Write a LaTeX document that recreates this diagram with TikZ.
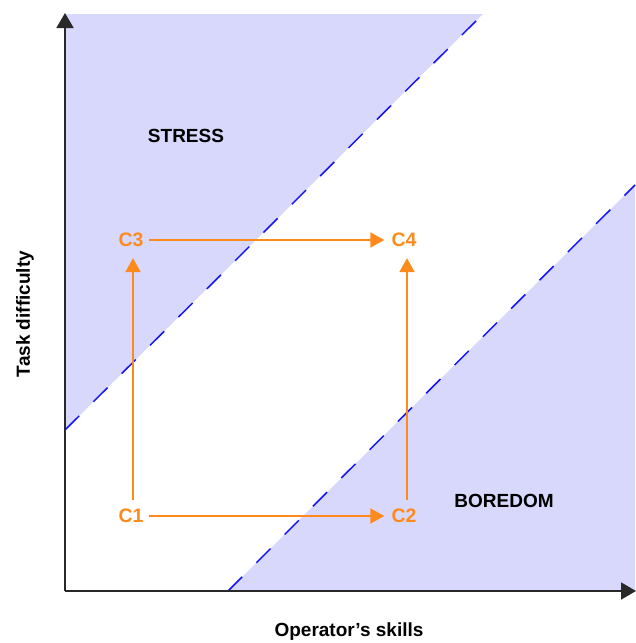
\documentclass[tikz,border=0pt]{standalone}
\usepackage{fontspec}
\setmainfont{Liberation Sans}
\usetikzlibrary{arrows.meta}
\definecolor{zonefill}{RGB}{216,216,252}
\definecolor{zoneline}{RGB}{20,20,245}
\definecolor{flow}{RGB}{255,138,28}
\definecolor{axiscol}{RGB}{40,40,40}
\tikzset{
  zone/.style={fill=zonefill, draw=none},
  zoneedge/.style={draw=zoneline, line width=1.5pt, dash pattern=on 20pt off 20pt},
  axisline/.style={draw=axiscol, line width=1.8pt, -{Triangle[length=15pt,width=17pt]}},
  cnode/.style={text=flow, font=\bfseries\fontsize{19.5}{22}\selectfont, inner sep=0pt},
  flowarrow/.style={draw=flow, line width=1.8pt, -{Triangle[length=14pt,width=15pt]}},
  zonelabel/.style={font=\bfseries\fontsize{19}{22}\selectfont, inner sep=0pt},
  axislabel/.style={font=\bfseries\fontsize{19}{22}\selectfont, inner sep=0pt}
}
\begin{document}
\begin{tikzpicture}[x=1pt,y=-1pt]
\useasboundingbox (0,0) rectangle (635,643);
% zones
\coordinate (s1) at (65,430);
\coordinate (s2) at (483,14);
\coordinate (b1) at (228,591);
\coordinate (b2) at (635,185);
\fill[zonefill] (s1) -- (65,14) -- (s2) -- cycle;
\fill[zonefill] (b1) -- (b2) -- (635,591) -- cycle;
\draw[zoneedge] (s1) -- (s2);
\draw[zoneedge] (b1) -- (b2);
% axes
\coordinate (o) at (65,591);
\coordinate (ytop) at (65,13);
\coordinate (xend) at (636,591);
\draw[axisline] (o) -- (ytop);
\draw[axisline] (o) -- (xend);
% labels
\node[zonelabel] (stress) at (186,136) {STRESS};
\node[zonelabel] (boredom) at (504,501) {BOREDOM};
\node[axislabel, rotate=90] (ylab) at (25,314) {Task difficulty};
\node[axislabel] (xlab) at (349,632) {Operator’s skills};
% C nodes
\node[cnode] (c1) at (131,516) {C1};
\node[cnode] (c2) at (404,516) {C2};
\node[cnode] (c3) at (131,240) {C3};
\node[cnode] (c4) at (404,240) {C4};
\draw[flowarrow] ([xshift=5pt]c1.east) -- ([xshift=-7pt]c2.west);
\draw[flowarrow] ([xshift=5pt]c3.east) -- ([xshift=-7pt]c4.west);
\draw[flowarrow] ([xshift=2pt,yshift=9pt]c1.north) -- ([xshift=2pt,yshift=-11pt]c3.south);
\draw[flowarrow] ([xshift=3pt,yshift=9pt]c2.north) -- ([xshift=3pt,yshift=-11pt]c4.south);
\end{tikzpicture}
\end{document}
